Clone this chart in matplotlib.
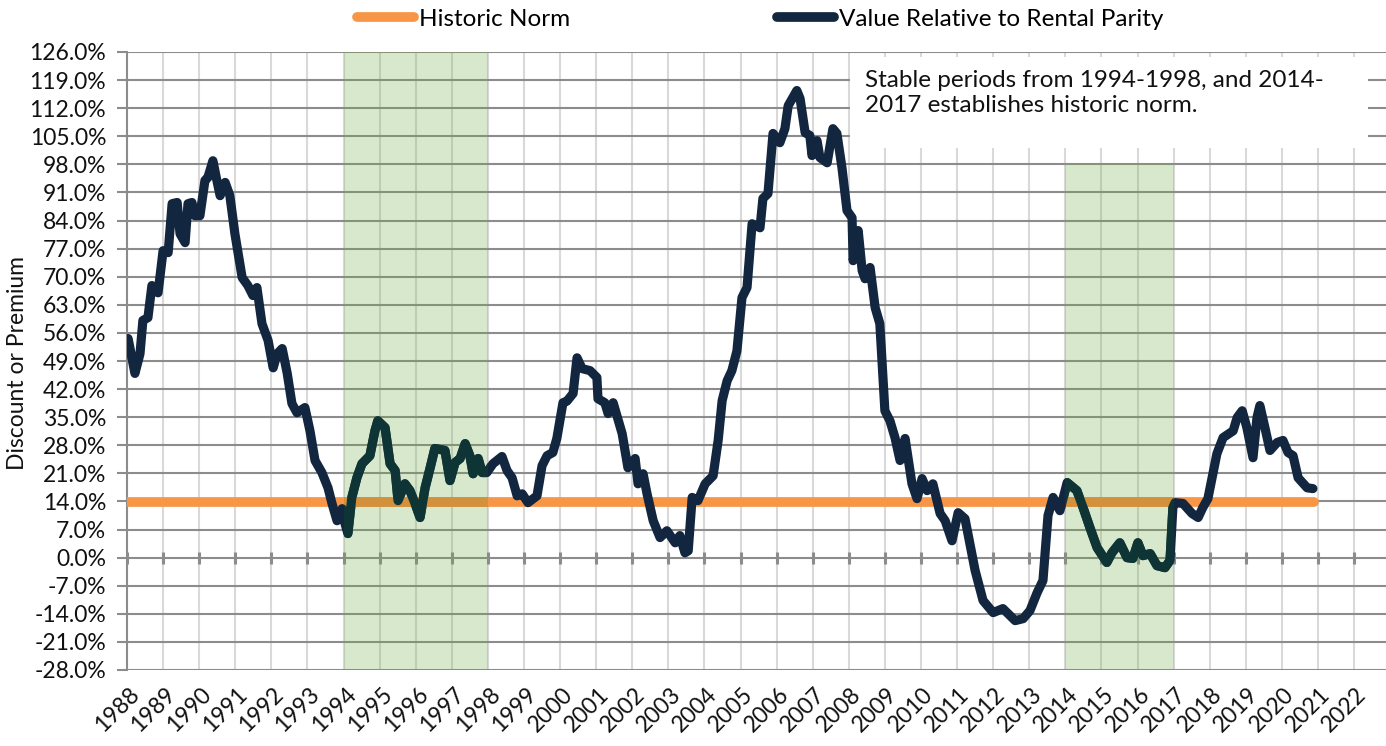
import matplotlib
matplotlib.use("Agg")
import matplotlib.pyplot as plt
from matplotlib.lines import Line2D
from matplotlib.patches import Rectangle
import matplotlib.transforms as mtransforms

plt.rcParams['font.family'] = ['Lato', 'DejaVu Sans']

# ---------------- data ----------------
years = [
    1988.03, 1988.22, 1988.36, 1988.44, 1988.58, 1988.69, 1988.86, 1989.00, 1989.14, 1989.25,
    1989.39, 1989.47, 1989.61, 1989.69, 1989.80, 1989.88, 1990.02, 1990.16, 1990.24, 1990.38,
    1990.49, 1990.58, 1990.72, 1990.85, 1990.99, 1991.19, 1991.35, 1991.49, 1991.60, 1991.74,
    1991.91, 1992.05, 1992.16, 1992.30, 1992.44, 1992.57, 1992.71, 1992.93, 1993.07, 1993.21,
    1993.40, 1993.57, 1993.68, 1993.82, 1993.96, 1994.04, 1994.12, 1994.23, 1994.37, 1994.51,
    1994.73, 1994.87, 1994.95, 1995.15, 1995.29, 1995.43, 1995.51, 1995.70, 1995.84, 1995.98,
    1996.12, 1996.26, 1996.40, 1996.53, 1996.81, 1996.95, 1997.09, 1997.23, 1997.37, 1997.50,
    1997.59, 1997.73, 1997.84, 1997.97, 1998.14, 1998.39, 1998.53, 1998.67, 1998.81, 1998.95,
    1999.11, 1999.36, 1999.50, 1999.64, 1999.80, 1999.91, 2000.08, 2000.19, 2000.36, 2000.47,
    2000.61, 2000.83, 2001.02, 2001.05, 2001.24, 2001.33, 2001.47, 2001.72, 2001.88, 2002.08,
    2002.16, 2002.30, 2002.41, 2002.58, 2002.77, 2002.96, 2003.19, 2003.32, 2003.46, 2003.55,
    2003.66, 2003.82, 2004.02, 2004.24, 2004.38, 2004.49, 2004.63, 2004.76, 2004.90, 2005.04,
    2005.18, 2005.32, 2005.54, 2005.62, 2005.76, 2005.90, 2006.09, 2006.23, 2006.32, 2006.56,
    2006.65, 2006.79, 2006.92, 2006.98, 2007.12, 2007.20, 2007.40, 2007.56, 2007.67, 2007.81,
    2007.95, 2008.09, 2008.12, 2008.26, 2008.37, 2008.45, 2008.59, 2008.73, 2008.86, 2009.00,
    2009.14, 2009.28, 2009.42, 2009.56, 2009.75, 2009.89, 2010.03, 2010.17, 2010.33, 2010.53,
    2010.67, 2010.86, 2011.03, 2011.22, 2011.50, 2011.72, 2012.00, 2012.27, 2012.61, 2012.83,
    2013.02, 2013.22, 2013.38, 2013.52, 2013.66, 2013.85, 2014.05, 2014.32, 2014.49, 2014.68,
    2014.88, 2015.15, 2015.29, 2015.51, 2015.71, 2015.87, 2016.01, 2016.15, 2016.35, 2016.54,
    2016.76, 2016.90, 2016.98, 2017.04, 2017.26, 2017.51, 2017.68, 2017.81, 2017.95, 2018.09,
    2018.20, 2018.37, 2018.65, 2018.76, 2018.90, 2019.03, 2019.20, 2019.31, 2019.39, 2019.53,
    2019.67, 2019.87, 2020.03, 2020.17, 2020.31, 2020.45, 2020.70, 2020.86,
]
values = [
    54.6, 45.9, 50.8, 59.1, 59.8, 67.8, 66.0, 76.5, 76.0, 88.2,
    88.5, 80.7, 78.5, 88.2, 88.5, 85.2, 85.2, 94.0, 94.7, 98.9,
    94.0, 90.2, 93.5, 90.2, 80.7, 69.8, 67.8, 65.3, 67.3, 58.3,
    54.1, 47.3, 50.8, 52.1, 45.9, 38.4, 36.1, 37.4, 31.6, 24.2,
    21.2, 17.4, 13.5, 9.2, 12.2, 8.5, 6.0, 15.0, 19.9, 23.4,
    25.4, 31.6, 34.1, 32.4, 23.4, 21.7, 14.2, 18.4, 16.7, 13.5,
    10.0, 17.4, 22.4, 27.2, 26.7, 19.2, 23.7, 24.7, 28.4, 25.4,
    20.9, 24.7, 21.2, 21.2, 23.4, 25.2, 21.7, 19.9, 15.4, 15.9,
    13.7, 15.4, 22.9, 25.4, 26.2, 29.7, 38.6, 39.0, 40.9, 49.8,
    47.1, 46.6, 44.9, 39.6, 38.6, 35.9, 38.6, 30.9, 22.4, 24.7,
    18.4, 20.9, 15.9, 9.2, 5.0, 6.7, 3.7, 5.5, 1.2, 1.7,
    15.0, 14.2, 18.4, 20.4, 29.2, 39.1, 44.1, 46.6, 51.5, 64.8,
    67.3, 83.2, 82.2, 89.5, 90.7, 105.7, 103.4, 106.9, 112.6, 116.4,
    114.4, 105.9, 105.2, 100.2, 103.9, 99.7, 98.4, 106.9, 105.7, 97.2,
    86.5, 84.7, 74.0, 81.5, 71.5, 69.5, 72.3, 62.3, 58.3, 36.6,
    34.1, 29.9, 24.2, 29.7, 18.4, 14.7, 19.7, 16.7, 18.4, 11.0,
    9.2, 4.2, 11.2, 9.7, -3.2, -10.7, -13.7, -12.7, -15.7, -15.2,
    -13.2, -8.7, -5.7, 10.5, 15.0, 11.7, 18.7, 16.7, 12.5, 7.5,
    2.5, -1.2, 1.2, 3.7, 0.0, -0.2, 3.7, 0.5, 1.0, -2.0,
    -2.5, -0.7, 12.5, 13.7, 13.5, 11.0, 10.0, 12.5, 14.7, 20.9,
    25.9, 29.9, 31.6, 34.9, 36.6, 32.4, 24.9, 34.9, 37.9, 32.4,
    26.7, 28.7, 29.2, 26.2, 25.4, 19.9, 17.4, 17.2,
]
norm_value = 13.8
norm_start, norm_end = 1988.0, 2020.88
stable_periods = [(1994, 1998, 126), (2014, 2017, 98)]
year_ticks = list(range(1988, 2023))
y_ticks = list(range(-28, 127, 7))
series_labels = ["Historic Norm", "Value Relative to Rental Parity"]
note = "Stable periods from 1994-1998, and 2014-\n2017 establishes historic norm."

# ---------------- style ----------------
NAVY = "#12263f"
NAVY_SHADED = "#0e3436"
ORANGE = "#f79646"
ORANGE_SHADED = "#d4913d"
GREEN = "#70ad47"
HGRID = "#8c8c8c"
VGRID = "#d9d9d9"
FS = 16.5

W, H = 1386, 746
fig = plt.figure(figsize=(W / 100, H / 100), dpi=100)
ax = fig.add_axes([127 / W, 1 - 670 / H, (W - 127) / W, (670 - 52) / H])
ax.set_xlim(1988, 1988 + (W - 127) / 36.09)
ax.set_ylim(-28, 126)

for yv in y_ticks:
    ax.axhline(yv, color=HGRID, lw=1.5, zorder=1)
for xv in year_ticks:
    ax.axvline(xv, color=VGRID, lw=1.5, zorder=0.9)
ax.plot(year_ticks, [0] * len(year_ticks), ls="none", marker="|", ms=8,
        mew=2.2, color=HGRID, zorder=1.1)

ax.plot([norm_start, norm_end], [norm_value, norm_value], color=ORANGE, lw=7,
        solid_capstyle="round", zorder=2)
ax.plot(years, values, color=NAVY, lw=6.6, solid_joinstyle="round",
        solid_capstyle="round", zorder=3)

for a, b, top in stable_periods:
    ax.fill_between([a, b], -28, top, color=GREEN, alpha=0.27, lw=0, zorder=4)
    # lines seen through the translucent shading
    clip = Rectangle((a, -28), b - a, top + 28, transform=ax.transData,
                     facecolor="none", edgecolor="none")
    ax.add_patch(clip)
    l1, = ax.plot([norm_start, norm_end], [norm_value, norm_value],
                  color=ORANGE_SHADED, lw=7, zorder=4.2)
    l2, = ax.plot(years, values, color=NAVY_SHADED, lw=6.6,
                  solid_joinstyle="round", zorder=4.3)
    l1.set_clip_path(clip)
    l2.set_clip_path(clip)

# note box
ax.add_patch(Rectangle(((850 - 127) / (W - 127), (670 - 148) / 618),
                       (1368 - 850) / (W - 127), (148 - 57) / 618,
                       transform=ax.transAxes, facecolor="white", edgecolor="none",
                       zorder=5))
ax.text((865 - 127) / (W - 127), (670 - 70) / 618, note, transform=ax.transAxes,
        ha="left", va="top", fontsize=17.5, color="#111111", linespacing=1.25, zorder=6)

# axes styling
for s in ["top", "right", "bottom"]:
    ax.spines[s].set_visible(False)
ax.spines["left"].set_color(HGRID)
ax.spines["left"].set_linewidth(1.5)
ax.spines["left"].set_zorder(1.2)
ax.set_yticks(y_ticks)
ax.set_yticklabels([f"{v:.1f}%" for v in y_ticks])
ax.tick_params(axis="y", length=7, width=1.5, color=HGRID, labelsize=FS, pad=8,
               labelcolor="#111111")
ax.set_xticks(year_ticks)
ax.set_xticklabels([str(y) for y in year_ticks], rotation=45, ha="right",
                   rotation_mode="anchor", va="center")
ax.tick_params(axis="x", length=0, labelsize=FS, pad=15, labelcolor="#111111")
offset = mtransforms.ScaledTranslation(9 / 100, 0, fig.dpi_scale_trans)
for lab in ax.get_xticklabels():
    lab.set_transform(lab.get_transform() + offset)

fig.text(18 / W, 1 - 363 / H, "Discount or Premium", rotation=90, ha="center",
         va="center", fontsize=FS, color="#111111")

handles = [Line2D([], [], color=ORANGE, lw=7, solid_capstyle="round"),
           Line2D([], [], color=NAVY, lw=7, solid_capstyle="round")]
fig.legend(handles, series_labels, loc="center", bbox_to_anchor=(760 / W, 1 - 19 / H),
           ncol=2, frameon=False, fontsize=17.5, handlelength=2.35, handletextpad=0.2,
           columnspacing=8.5)

fig.savefig("out.png", dpi=100)
